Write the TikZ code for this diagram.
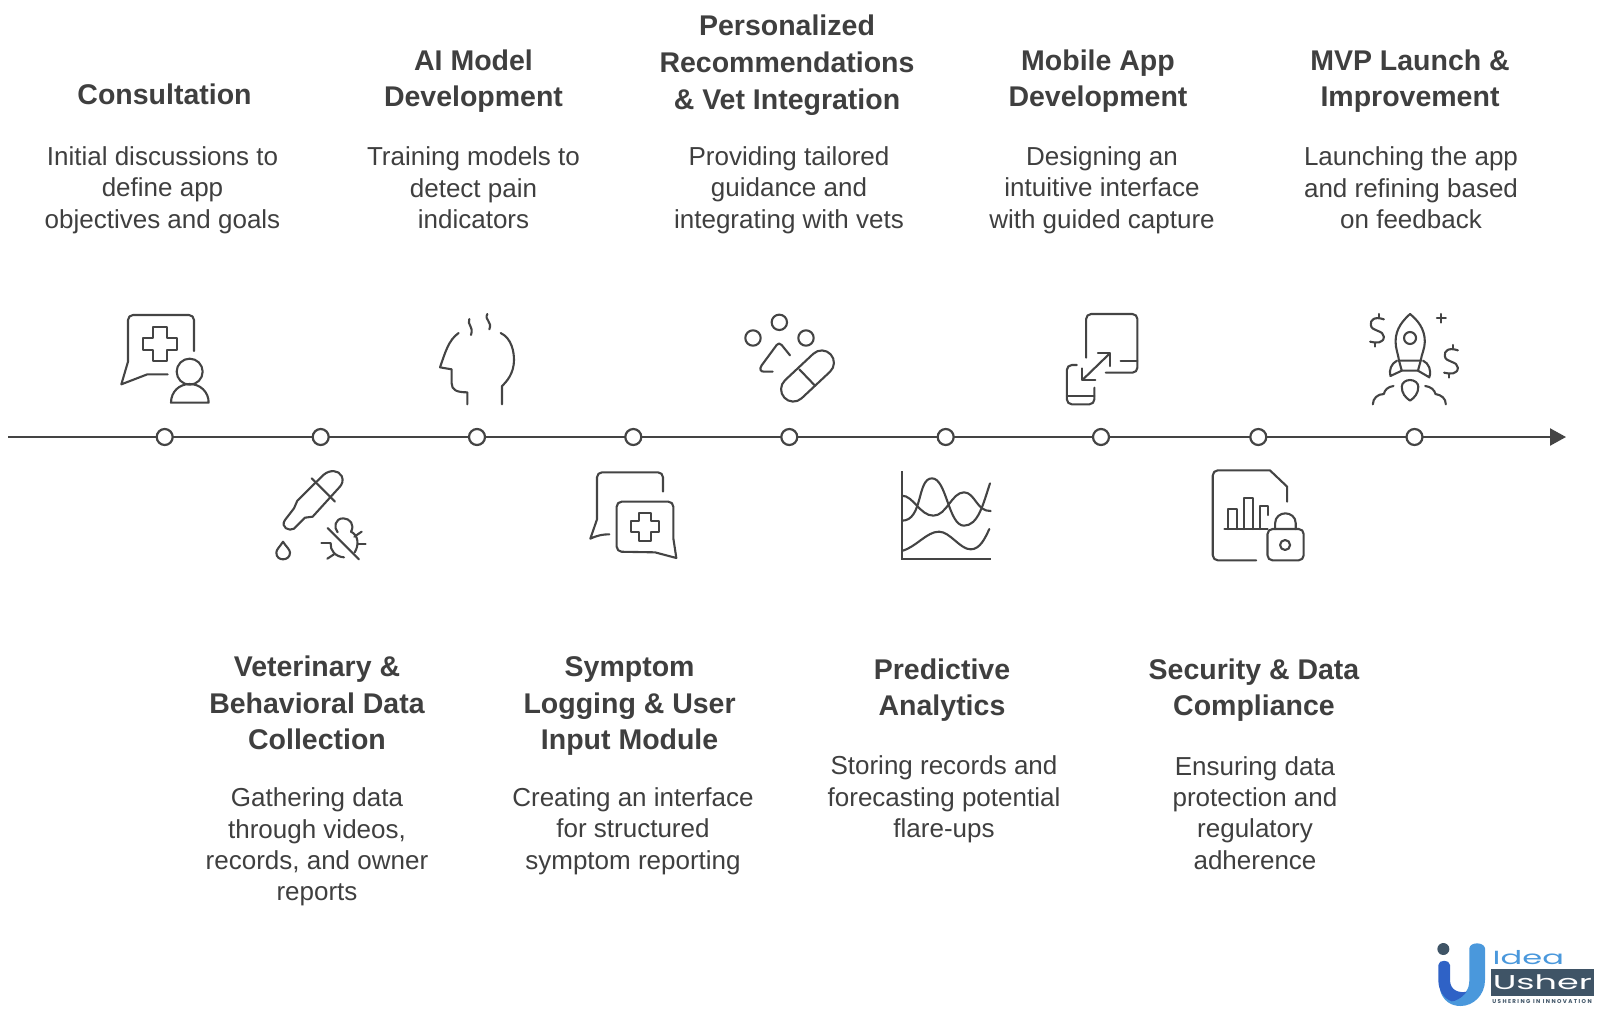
\documentclass[tikz,border=0pt]{standalone}
\usepackage{fontspec}
\setmainfont{Liberation Sans}
\newfontfamily\logofont{Poppins}
\usetikzlibrary{arrows.meta}
\definecolor{inkc}{HTML}{444444}
\definecolor{txtc}{HTML}{3F3F3F}
\definecolor{logoA}{HTML}{2F62C6}
\definecolor{logoB}{HTML}{4A98DC}
\definecolor{logoD}{HTML}{3F5466}
\tikzset{
 headtext/.style={align=center,text=txtc,inner sep=0pt,font=\fontsize{28.5}{36.7}\selectfont\bfseries},
 bodytext/.style={align=center,text=txtc,inner sep=0pt,font=\fontsize{26}{31.3}\selectfont},
 dotnode/.style={circle,draw=inkc,fill=white,line width=2.2pt,minimum size=16pt,inner sep=0pt},
 iconline/.style={draw=inkc,line width=2.1pt,line cap=round,line join=round},
 zoomed/.style={shift={#1},x=0.33333pt,y=-0.33333pt},
 zoomedw/.style={shift={#1},x=0.34423pt,y=-0.33333pt},
}
\begin{document}
\begin{tikzpicture}[x=1pt,y=-1pt]
\useasboundingbox (0,0) rectangle (1600,1010);
% axis
\coordinate (axisstart) at (8,437);
\coordinate (axisend) at (1566,437);
\draw[draw=inkc,line width=2.3pt,-{Triangle[length=16pt,width=17pt]}] (axisstart) -- (axisend);
\foreach \n/\x in {d1/164.7,d2/320.7,d3/477,d4/633.3,d5/789.3,d6/945.7,d7/1101,d8/1258.3,d9/1414.5}
  \node[dotnode] (\n) at (\x,437) {};
% upper texts
\node[headtext] (h1) at (164.5,94) {Consultation};
\node[bodytext] (b1) at (162.5,190) {Initial discussions to\\define app\\objectives and goals};
\node[headtext] (h2) at (473.5,81) {AI Model\\Development};
\node[bodytext] (b2) at (473.5,188) {Training models to\\detect pain\\indicators};
\node[headtext] (h3) at (787,65) {Personalized\\Recommendations\\\& Vet Integration};
\node[bodytext] (b3) at (789,190) {Providing tailored\\guidance and\\integrating with vets};
\node[headtext] (h4) at (1098,81) {Mobile App\\Development};
\node[bodytext] (b4) at (1102,190) {Designing an\\intuitive interface\\with guided capture};
\node[headtext] (h5) at (1410,81) {MVP Launch \&\\Improvement};
\node[bodytext] (b5) at (1411,188) {Launching the app\\and refining based\\on feedback};
% lower texts
\node[headtext] (h6) at (317,703) {Veterinary \&\\Behavioral Data\\Collection};
\node[bodytext] (b6) at (317,847) {Gathering data\\through videos,\\records, and owner\\reports};
\node[headtext] (h7) at (629.6,706) {Symptom\\Logging \& User\\Input Module};
\node[bodytext] (b7) at (633,831) {Creating an interface\\for structured\\symptom reporting};
\node[headtext] (h8) at (942,690) {Predictive\\Analytics};
\node[bodytext] (b8) at (944,799.5) {Storing records and\\forecasting potential\\flare-ups};
\node[headtext] (h9) at (1254,690) {Security \& Data\\Compliance};
\node[bodytext] (b9) at (1255,813) {Ensuring data\\protection and\\regulatory\\adherence};
% icons, first crop
\begin{scope}[zoomed={(90,290)}]
 \draw[iconline] (312,183) [rounded corners=5pt] -- (312,75) -- (114,75) [sharp corners] -- (114,215) -- (94,283) -- (172,253) -- (233,253);
 \draw[iconline] (190,112) -- (230,112) -- (230,143) -- (262,143) -- (262,181) -- (230,181) -- (230,212) -- (190,212) -- (190,181) -- (160,181) -- (160,143) -- (190,143) -- cycle;
 \draw[iconline] (299,245) circle (13pt);
 \draw[iconline] (243,338) -- (356,338) .. controls (356,305) and (330,282) .. (299,282) .. controls (268,282) and (243,305) .. (243,338) -- cycle;
 % head
 \draw[iconline] (1106,129) .. controls (1075,150) and (1065,190) .. (1050,232) -- (1085,238) -- (1085,280) .. controls (1085,300) and (1100,307) .. (1132,307) -- (1132,343);
 \draw[iconline] (1232,129) .. controls (1265,145) and (1272,185) .. (1272,210) .. controls (1272,250) and (1250,275) .. (1236,288) -- (1236,343);
 \draw[iconline] (1138,87) .. controls (1130,105) and (1152,108) .. (1143,135);
 \draw[iconline] (1192,72) .. controls (1182,90) and (1208,95) .. (1198,118);
 % dropper
 \draw[iconline] (585,690) -- (612,655) -- (622,632) -- (700,555) .. controls (720,538) and (745,540) .. (755,558) .. controls (762,572) and (755,585) .. (748,592) -- (668,680) -- (645,683) -- (612,716) .. controls (598,725) and (570,712) .. (585,690);
 \draw[iconline] (665,565) -- (735,635);
 \draw[iconline] (579,755) .. controls (570,770) and (559,778) .. (559,788) .. controls (559,801) and (568,808) .. (579,808) .. controls (590,808) and (600,801) .. (600,788) .. controls (600,778) and (588,770) .. (579,755) -- cycle;
 % bug
 \draw[iconline] (743,727) .. controls (730,712) and (735,685) .. (760,685) .. controls (780,685) and (795,705) .. (783,725);
 \draw[iconline] (713,714) -- (807,808);
 \draw[iconline] (783,725) .. controls (805,735) and (808,765) .. (794,787);
 \draw[iconline] (722,760) .. controls (720,780) and (735,800) .. (762,802);
 \draw[iconline] (694,760) -- (722,760);
 \draw[iconline] (712,806) -- (732,793);
 \draw[iconline] (793,740) -- (815,725);
 \draw[iconline] (803,761) -- (827,761);
\end{scope}
% icons, second crop
\begin{scope}[zoomed={(560,290)}]
 \draw[iconline] (309,605) [rounded corners=5pt] -- (309,547) -- (111,547) [sharp corners] -- (111,688) -- (91,746) .. controls (115,735) and (130,733) .. (148,733);
 \draw[iconline] (285,787) [rounded corners=5pt] -- (170,785) -- (170,635) -- (340,635) [sharp corners] -- (340,745) -- (349,804) -- cycle;
 \draw[iconline] (238,668) -- (274,668) -- (274,693) -- (298,693) -- (298,727) -- (274,727) -- (274,752) -- (238,752) -- (238,727) -- (212,727) -- (212,693) -- (238,693) -- cycle;
 % pills
 \draw[iconline] (658,97) circle (7.7pt);
 \draw[iconline] (579,144) circle (7.7pt);
 \draw[iconline] (738,144) circle (7.7pt);
 \draw[iconline] (690,196) -- (665,165) .. controls (660,159) and (654,159) .. (650,165) -- (605,226) .. controls (597,238) and (602,245) .. (612,245) -- (638,245);
 \draw[iconline,rounded corners=12.3pt] (837,220) -- (787,166) -- (648,296) -- (698,350) -- cycle;
 \draw[iconline] (718,238) -- (765,287);
 % chart
 \draw[iconline,line cap=butt,line join=miter] (1026,543) -- (1026,807) -- (1292,807);
 \draw[iconline] (1026,617) .. controls (1060,617) and (1080,677) .. (1120,677) .. controls (1160,677) and (1175,607) .. (1212,607) .. controls (1245,607) and (1250,665) .. (1292,663);
 \draw[iconline] (1026,692) .. controls (1090,692) and (1070,565) .. (1116,565) .. controls (1160,565) and (1165,707) .. (1212,707) .. controls (1255,707) and (1270,640) .. (1290,580);
 \draw[iconline] (1026,783) .. controls (1070,770) and (1100,725) .. (1137,725) .. controls (1170,725) and (1200,778) .. (1232,778) .. controls (1260,778) and (1275,745) .. (1288,717);
\end{scope}
% icons, third crop
\begin{scope}[zoomedw={(1030,290)}]
 \draw[iconline] (163,203) [rounded corners=5pt] -- (163,72) -- (312,72) -- (312,248) [sharp corners] -- (220,248);
 \draw[iconline] (263,212) -- (312,212);
 \draw[iconline] (136,225) [rounded corners=5pt] -- (107,225) -- (107,343) -- (187,343) [sharp corners] -- (187,293);
 \draw[iconline] (107,318) -- (187,318);
 \draw[iconline] (152,270) -- (232,190);
 \draw[iconline] (197,190) -- (232,190) -- (232,228);
 \draw[iconline] (152,235) -- (152,270) -- (190,270);
 % rocket
 \draw[iconline] (1104,72) .. controls (1085,90) and (1062,115) .. (1062,155) .. controls (1062,175) and (1070,195) .. (1072,212) -- (1135,212) .. controls (1137,195) and (1147,175) .. (1147,155) .. controls (1147,115) and (1125,90) .. (1104,72) -- cycle;
 \draw[iconline] (1104,144) circle (6pt);
 \draw[iconline] (1072,212) -- (1080,242) -- (1127,242) -- (1135,212);
 \draw[iconline] (1066,212) .. controls (1050,220) and (1042,240) .. (1047,258) -- (1080,242);
 \draw[iconline] (1142,212) .. controls (1158,220) and (1167,240) .. (1160,262) -- (1127,242);
 \draw[iconline] (1104,332) .. controls (1090,322) and (1080,310) .. (1080,290) .. controls (1080,278) and (1092,270) .. (1104,270) .. controls (1116,270) and (1128,278) .. (1128,290) .. controls (1128,310) and (1118,322) .. (1104,332) -- cycle;
 \draw[iconline] (996,343) .. controls (996,325) and (1010,312) .. (1028,312) .. controls (1030,300) and (1040,290) .. (1056,288);
 \draw[iconline] (1148,288) .. controls (1165,290) and (1175,300) .. (1178,312) .. controls (1195,315) and (1208,325) .. (1208,343);
 \draw[iconline] (1182,85) -- (1208,85);
 \draw[iconline] (1195,72) -- (1195,98);
 \foreach \dx/\dy in {0/0,215/93}{
  \begin{scope}[shift={(\dx,\dy)}]
   \draw[iconline] (1028,88) .. controls (1000,78) and (988,90) .. (990,105) .. controls (992,125) and (1028,120) .. (1028,140) .. controls (1028,160) and (1005,160) .. (988,155);
   \draw[iconline] (1014,72) -- (1014,82);
   \draw[iconline] (1003,158) -- (1003,170);
  \end{scope}
 }
 % document and lock
 \draw[iconline] (657,811) [rounded corners=5pt] -- (531,811) -- (531,541) [sharp corners] -- (697,541) -- (747,590) -- (747,635);
 \draw[iconline] (565,717) -- (690,717);
 \draw[iconline] (575,717) -- (575,658) -- (600,658) -- (600,717);
 \draw[iconline] (622,717) -- (622,623) -- (647,623) -- (647,717);
 \draw[iconline] (668,717) -- (668,648) -- (692,648) -- (692,675);
 \draw[iconline,rounded corners=5pt] (690,717) rectangle (795,811);
 \draw[iconline] (712,717) -- (712,700) .. controls (712,680) and (728,670) .. (742,670) .. controls (756,670) and (772,680) .. (772,700) -- (772,717);
 \draw[iconline] (741,765) circle (5pt);
\end{scope}
% logo
\begin{scope}[zoomed={(1420,930)}]
 \fill[logoD] (70,57) circle (6pt);
 \fill[logoB] (148,55) .. controls (150,35) and (192,35) .. (195,55) -- (195,150) .. controls (195,195) and (160,228) .. (122,228) .. controls (90,228) and (68,210) .. (60,180) .. controls (90,210) and (148,210) .. (148,150) -- cycle;
 \fill[logoA] (55,105) .. controls (55,88) and (90,88) .. (90,105) -- (90,150) .. controls (90,180) and (115,190) .. (140,185) .. controls (125,205) and (105,214) .. (95,214) .. controls (70,205) and (55,180) .. (55,150) -- cycle;
 \node[inner sep=0pt,text=logoB,xscale=1.69,font=\logofont\fontsize{19}{19}\selectfont] (logoidea) at (325,83) {Idea};
 \node[fill=logoD,minimum width=103pt,minimum height=26.5pt,inner sep=0pt] (logobar) at (367,158) {};
 \node[inner sep=0pt,text=white,xscale=1.75,font=\logofont\fontsize{20}{20}\selectfont] (logousher) at (logobar) {Usher};
 \node[inner sep=0pt,text=logoD,font=\logofont\bfseries\fontsize{5.6}{6}\selectfont\addfontfeature{LetterSpace=25}] (logotag) at (366,215) {USHERING IN INNOVATION};
\end{scope}
\end{tikzpicture}
\end{document}
